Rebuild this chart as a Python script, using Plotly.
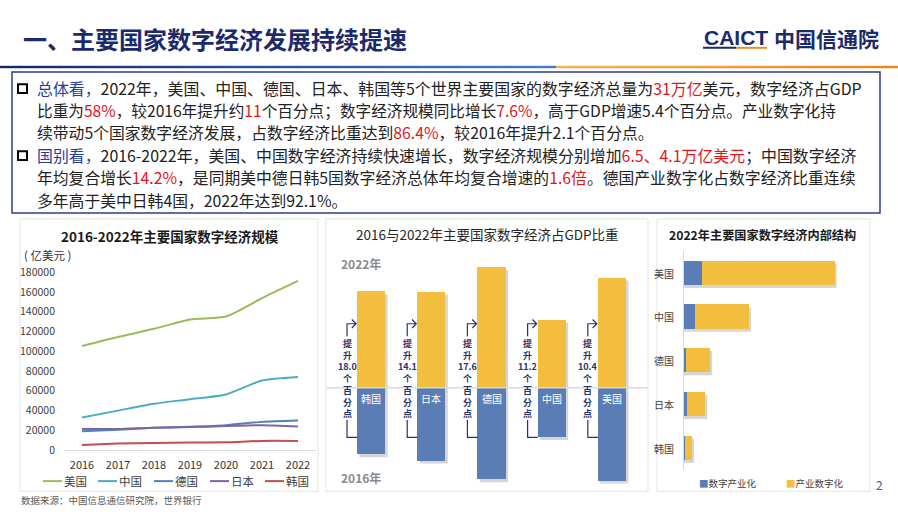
import plotly.graph_objects as go

# ---------------- data ----------------
years = ["2016", "2017", "2018", "2019", "2020", "2021", "2022"]
us = [105400, 114500, 122700, 132200, 135200, 153800, 171200]
cn = [33000, 39900, 46800, 51400, 56300, 70400, 74000]
de = [19000, 20600, 22600, 23600, 25200, 28500, 29800]
jp = [21300, 21300, 22600, 23200, 24200, 25200, 23900]
kr = [5200, 6500, 7200, 7500, 7900, 9200, 9200]
line_names = ["美国", "中国", "德国", "日本", "韩国"]

share_countries = ["韩国", "日本", "德国", "中国", "美国"]
share_2022 = [59.0, 58.8, 73.8, 41.5, 67.4]
share_2016 = [41.0, 44.7, 56.2, 30.3, 57.0]
share_rise = ["18.0", "14.1", "17.6", "11.2", "10.4"]

struct_countries = ["美国", "中国", "德国", "日本", "韩国"]
digital_industry = [20500, 13000, 2350, 3200, 1600]
industry_digital = [150700, 61000, 27450, 20700, 7600]

# ---------------- helpers ----------------
W, H = 898, 526
FONT = "Noto Sans CJK SC"
NAVY = "#1B2A6B"
RED = "#E0161B"
BLUE_T = "#1F3D99"
YEL = "#F3BD3E"
BLU = "#5B7DB5"
BRK = "#27326E"


def px(x):
    return x / W


def py(y):
    return 1 - y / H


fig = go.Figure()
ann = []
shapes = []


def note(x, y, text, size, color, xanchor="center", family=FONT):
    ann.append(dict(x=px(x), y=py(y), xref="paper", yref="paper", xanchor=xanchor, yanchor="middle",
                    text=text, showarrow=False, font=dict(family=family, size=size, color=color)))


# ---------------- left line chart ----------------
line_colors = ["#9BBB59", "#4BACC6", "#4F81BD", "#8064A2", "#C0504D"]
for name, vals, col in zip(line_names, [us, cn, de, jp, kr], line_colors):
    fig.add_trace(go.Scatter(x=years, y=vals, name=name, mode="lines",
                             line=dict(color=col, width=2, shape="spline", smoothing=0.6),
                             xaxis="x", yaxis="y", showlegend=False))
# legend drawn as line samples + labels
leg_x = [43, 98, 154, 210, 265]
for lx, name, col in zip(leg_x, line_names, line_colors):
    shapes.append(dict(type="line", xref="paper", yref="paper", x0=px(lx), x1=px(lx + 19),
                       y0=py(487), y1=py(487), line=dict(color=col, width=2)))
    note(lx + 19, 487, name, 11.5, "#404040", xanchor="left")

# ---------------- middle bar chart ----------------
S = 1.68  # px per unit
BASE = 391
idx = list(range(len(share_countries)))
bw = 0.47
for i, (a, b) in enumerate(zip(share_2022, share_2016)):
    shapes.append(dict(type="rect", xref="x2", yref="y2", layer="below",
                       x0=i - bw / 2 + 0.04, x1=i + bw / 2 + 0.04,
                       y0=-b - 1.6, y1=a - 1.6,
                       fillcolor="rgba(0,0,0,0.16)", line=dict(width=0)))
fig.add_trace(go.Bar(x=idx, y=share_2022, width=bw, marker=dict(color=YEL, line=dict(width=0)),
                     xaxis="x2", yaxis="y2", showlegend=False, hoverinfo="skip"))
fig.add_trace(go.Bar(x=idx, y=[-v for v in share_2016], width=bw, marker=dict(color=BLU, line=dict(width=0)),
                     xaxis="x2", yaxis="y2", showlegend=False, hoverinfo="skip"))


def uy(pix):
    return (BASE - pix) / S


shapes.append(dict(type="line", xref="paper", yref="y2", x0=px(327), x1=px(648), y0=0, y1=0,
                   line=dict(color="#D9D9D9", width=1.5), layer="above"))
for i, c in enumerate(share_countries):
    ann.append(dict(x=i, y=uy(402), xref="x2", yref="y2", xanchor="center", yanchor="middle",
                    text=c, showarrow=False, font=dict(family=FONT, size=10, color="white")))
    tx = i - 0.4
    tip = i - bw / 2 - 0.015
    top = uy(325)
    label = "<br>".join(["提", "升", share_rise[i], "个", "百", "分", "点"])
    ann.append(dict(x=tx, y=uy(381), xref="x2", yref="y2", xanchor="center", yanchor="middle",
                    text="<b>%s</b>" % label, showarrow=False,
                    font=dict(family=FONT, size=9, color=BRK)))
    path = "M %f,%f L %f,%f L %f,%f" % (tx, uy(338), tx, top, tip, top)
    path += " M %f,%f L %f,%f L %f,%f" % (tip - 0.07, top + 2.6, tip, top, tip - 0.07, top - 2.6)
    path += " M %f,%f L %f,%f L %f,%f" % (tx, uy(424), tx, uy(442), tx + 0.17, uy(442))
    shapes.append(dict(type="path", xref="x2", yref="y2", path=path,
                       line=dict(color=BRK, width=1.2)))

# ---------------- right bar chart ----------------
for i, (a, b) in enumerate(zip(digital_industry, industry_digital)):
    shapes.append(dict(type="rect", xref="x3", yref="y3", layer="below",
                       x0=0, x1=a + b + 2300, y0=i - 0.277 + 0.06, y1=i + 0.277 + 0.06,
                       fillcolor="rgba(0,0,0,0.16)", line=dict(width=0)))
fig.add_trace(go.Bar(y=struct_countries, x=digital_industry, orientation="h", width=0.555,
                     name="数字产业化", marker=dict(color=BLU, line=dict(width=0)),
                     xaxis="x3", yaxis="y3", showlegend=False, hoverinfo="skip"))
fig.add_trace(go.Bar(y=struct_countries, x=industry_digital, orientation="h", width=0.555,
                     name="产业数字化", marker=dict(color=YEL, line=dict(width=0)),
                     xaxis="x3", yaxis="y3", showlegend=False, hoverinfo="skip"))
for c in struct_countries:
    ann.append(dict(x=px(676), y=c, xref="paper", yref="y3", xanchor="right", yanchor="middle",
                    text=c, showarrow=False, font=dict(family=FONT, size=10, color="#404040")))

# ---------------- panels ----------------
for x0, x1 in [(20, 318), (326, 648), (657, 870)]:
    shapes.append(dict(type="rect", xref="paper", yref="paper", x0=px(x0), x1=px(x1),
                       y0=py(497.5), y1=py(217), line=dict(color="#E4E4E4", width=1), layer="below"))


# ---------------- header ----------------
def hexmix(c1, c2, t):
    a = [int(c1[k:k + 2], 16) for k in (1, 3, 5)]
    b = [int(c2[k:k + 2], 16) for k in (1, 3, 5)]
    return "#%02x%02x%02x" % tuple(int(round(a[j] + (b[j] - a[j]) * t)) for j in range(3))


n = 28
for k in range(n):
    x0 = 556 * k / n
    x1 = 556 * (k + 1) / n + 0.5
    shapes.append(dict(type="rect", xref="paper", yref="paper", x0=px(x0), x1=px(x1),
                       y0=py(62), y1=py(59.5), fillcolor=hexmix("#16276A", "#3F7FD0", k / (n - 1)),
                       line=dict(width=0)))
for k in range(n):
    x0 = 556 + 342 * k / n
    x1 = 556 + 342 * (k + 1) / n + 0.5
    shapes.append(dict(type="rect", xref="paper", yref="paper", x0=px(x0), x1=px(x1),
                       y0=py(62), y1=py(59.5), fillcolor=hexmix("#F7B24E", "#EE8420", k / (n - 1)),
                       line=dict(width=0)))

note(21, 31, "<b>一、主要国家数字经济发展持续提速</b>", 24, NAVY, xanchor="left")
note(702, 30, "<b>CAICT</b>", 21, NAVY, xanchor="left", family="Liberation Sans")
shapes.append(dict(type="rect", xref="paper", yref="paper", x0=px(703), x1=px(736), y0=py(42), y1=py(40),
                   fillcolor=NAVY, line=dict(width=0)))
shapes.append(dict(type="rect", xref="paper", yref="paper", x0=px(736), x1=px(767), y0=py(42), y1=py(40),
                   fillcolor="#F08A24", line=dict(width=0)))
note(772, 31, "<b>中国信通院</b>", 21, NAVY, xanchor="left")

# ---------------- text box ----------------
shapes.append(dict(type="rect", xref="paper", yref="paper", x0=px(12), x1=px(880), y0=py(211), y1=py(66),
                   line=dict(color="#2F3E8C", width=1.5)))
for yy in (83, 152):
    shapes.append(dict(type="rect", xref="paper", yref="paper", x0=px(18), x1=px(27),
                       y0=py(yy + 4.5), y1=py(yy - 4.5), line=dict(color="black", width=2)))


def r(t):
    return "<span style='color:%s'>%s</span>" % (RED, t)


def b(t):
    return "<span style='color:%s'>%s</span>" % (BLUE_T, t)


lines = [
    (83, 15.9, b("总体看，") + "2022年，美国、中国、德国、日本、韩国等5个世界主要国家的数字经济总量为" + r("31万亿") + "美元，数字经济占GDP"),
    (105.5, 15.65, "比重为" + r("58%") + "，较2016年提升约" + r("11") + "个百分点；数字经济规模同比增长" + r("7.6%") + "，高于GDP增速5.4个百分点。产业数字化持"),
    (128.5, 15.8, "续带动5个国家数字经济发展，占数字经济比重达到" + r("86.4%") + "，较2016年提升2.1个百分点。"),
    (152, 15.9, b("国别看，") + "2016-2022年，美国、中国数字经济持续快速增长，数字经济规模分别增加" + r("6.5、4.1万亿美元") + "；中国数字经济"),
    (174.5, 15.8, "年均复合增长" + r("14.2%") + "，是同期美中德日韩5国数字经济总体年均复合增速的" + r("1.6倍") + "。德国产业数字化占数字经济比重连续"),
    (198, 15.8, "多年高于美中日韩4国，2022年达到92.1%。"),
]
for yy, fs, t in lines:
    note(35, yy, t, fs, "#222222", xanchor="left")

# ---------------- chart titles & labels ----------------
note(170, 235, "<b>2016-2022年主要国家数字经济规模</b>", 13.5, "#1a1a1a")
note(22, 254.5, "( 亿美元 )", 11.5, "#333333", xanchor="left")
note(487, 233, "2016与2022年主要国家数字经济占GDP比重", 13.5, "#262626")
note(361, 263, "<b>2022年</b>", 12, "#8A8A8A")
note(361, 483, "<b>2016年</b>", 12, "#8A8A8A")
note(762, 234, "<b>2022年主要国家数字经济内部结构</b>", 12.2, "#1a1a1a")
note(697, 489, "<span style='color:%s'>■</span>数字产业化" % BLU, 9.5, "#404040", xanchor="left")
note(784, 489, "<span style='color:%s'>■</span>产业数字化" % YEL, 9.5, "#404040", xanchor="left")
note(879, 491, "2", 12, "#3A5BA8")
note(19, 506, "数据来源：中国信息通信研究院，世界银行", 9.5, "#595959", xanchor="left")

# ---------------- layout ----------------
fig.update_layout(
    width=W, height=H, margin=dict(l=0, r=0, t=0, b=0),
    paper_bgcolor="white", plot_bgcolor="white",
    font=dict(family=FONT, color="#404040"),
    barmode="relative", bargap=0, showlegend=False,
    xaxis=dict(domain=[px(64), px(316)], type="category", range=[-0.5, 6.5], showline=True,
               linecolor="#D9D9D9", linewidth=1, ticks="", showgrid=False,
               tickfont=dict(size=11, color="#333333"), ticklabelstandoff=5, anchor="y", fixedrange=True),
    yaxis=dict(domain=[py(455), py(272)], range=[0, 180000], dtick=20000, tickformat="d",
               showgrid=False, zeroline=False, showline=False, ticks="",
               tickfont=dict(size=10.5, color="#404040"), ticklabelstandoff=8, anchor="x"),
    xaxis2=dict(domain=[px(341), px(642)], range=[-0.5, 4.5], visible=False, anchor="y2"),
    yaxis2=dict(domain=[py(BASE + 62 * S), py(BASE - 80 * S)], range=[-62, 80], visible=False, anchor="x2"),
    xaxis3=dict(domain=[px(684), px(860)], range=[0, 200000], visible=False, anchor="y3"),
    yaxis3=dict(domain=[py(475.5), py(250.5)], type="category", categoryorder="array",
                categoryarray=struct_countries, range=[4.5, -0.5], showline=True, linecolor="#D9D9D9",
                ticks="", showticklabels=False, anchor="x3"),
    annotations=ann, shapes=shapes,
)

fig.write_html("out.html")
